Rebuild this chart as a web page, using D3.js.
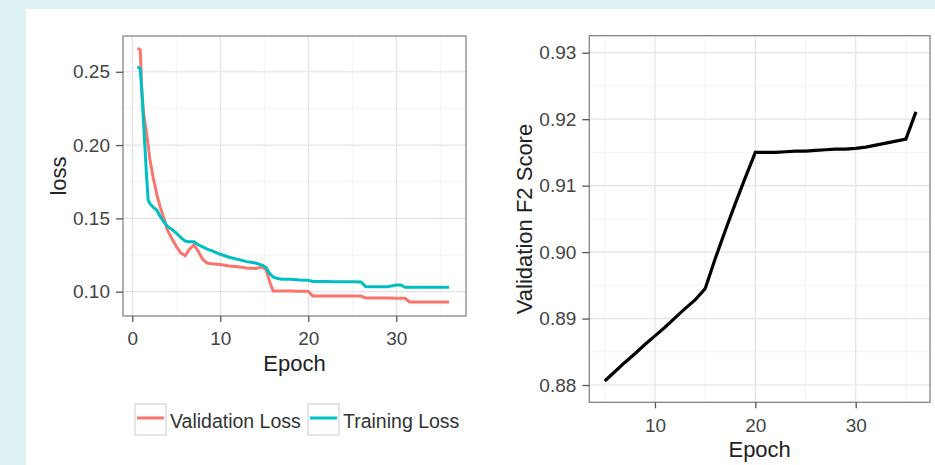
<!DOCTYPE html>
<html>
<head>
<meta charset="utf-8">
<title>Loss and F2</title>
<style>
  body { margin: 0; background: #dff2f3; }
  svg { display: block; font-family: "Liberation Sans", Arial, sans-serif; }
</style>
</head>
<body>
<svg id="chart" width="935" height="465"></svg>
<script src="https://cdn.jsdelivr.net/npm/d3@7"></script>
<script>
// loss per (fractional) epoch
const lossEpoch = [0.6, 0.9, 1.1, 1.3, 1.6, 1.8, 2, 2.4, 2.8, 3.2,
  3.6, 4, 4.5, 5, 5.5, 6, 6.5, 7, 7.5, 8,
  8.5, 9, 10, 11, 12, 13, 14, 14.8, 15.2, 15.6,
  16, 16.5, 17, 18, 19, 20, 20.5, 21, 22, 23,
  24, 25, 26, 26.5, 27, 28, 29, 30, 30.5, 31,
  31.5, 32, 33, 34, 35, 36]
const validationLoss = [0.266, 0.265, 0.235, 0.221, 0.209, 0.200, 0.190, 0.177, 0.166, 0.157,
  0.150, 0.142, 0.136, 0.131, 0.1265, 0.1245, 0.129, 0.132, 0.1275, 0.122,
  0.1195, 0.119, 0.1185, 0.1175, 0.117, 0.1162, 0.1158, 0.1168, 0.115, 0.107,
  0.1005, 0.1005, 0.1005, 0.1005, 0.1003, 0.1002, 0.097, 0.097, 0.097, 0.097,
  0.097, 0.097, 0.097, 0.0957, 0.0957, 0.0957, 0.0956, 0.0955, 0.0955, 0.0955,
  0.093, 0.093, 0.093, 0.093, 0.093, 0.093]
const trainingLoss = [0.2535, 0.252, 0.235, 0.213, 0.181, 0.1626, 0.160, 0.1575, 0.1555, 0.151,
  0.1475, 0.1445, 0.1425, 0.140, 0.137, 0.1345, 0.134, 0.134, 0.132, 0.1305,
  0.129, 0.128, 0.1255, 0.1235, 0.122, 0.1205, 0.1195, 0.118, 0.1165, 0.1125,
  0.110, 0.109, 0.1085, 0.1085, 0.108, 0.1078, 0.107, 0.107, 0.107, 0.1068,
  0.1068, 0.1068, 0.1066, 0.1035, 0.1034, 0.1034, 0.1034, 0.1046, 0.1046, 0.103,
  0.103, 0.103, 0.103, 0.103, 0.103, 0.103]

// validation F2 per epoch
const f2Epoch = d3.range(5, 37)
const f2Score = [0.8806, 0.8820, 0.8834, 0.8847, 0.8861, 0.8874, 0.8887, 0.8901, 0.8915, 0.8928,
  0.8945, 0.8990, 0.9032, 0.9073, 0.9112, 0.9150, 0.9150, 0.9150, 0.9151, 0.9152,
  0.9152, 0.9153, 0.9154, 0.9155, 0.9155, 0.9156, 0.9158, 0.9161, 0.9164, 0.9167,
  0.9170, 0.9211]

const lossTicksY = [0.10, 0.15, 0.20, 0.25]
const lossMinorY = [0.125, 0.175, 0.225]
const lossTicksX = [0, 10, 20, 30]
const f2TicksY = [0.88, 0.89, 0.90, 0.91, 0.92, 0.93]
const f2MinorY = [0.885, 0.895, 0.905, 0.915, 0.925]
const f2TicksX = [10, 20, 30]
const minorX = [5, 15, 25, 35]

const series = [
  { name: "Validation Loss", values: validationLoss, color: "#F8766D" },
  { name: "Training Loss", values: trainingLoss, color: "#00BFC4" }
]

const svg = d3.select("#chart")

// white plotting area on the pale page
svg.append("rect").attr("x", 26).attr("y", 9).attr("width", 935 - 26).attr("height", 465 - 9).attr("fill", "white")

function panel(opts) {
  const g = svg.append("g")
  const x = d3.scaleLinear().domain(opts.xDomain).range(opts.xRange)
  const y = d3.scaleLinear().domain(opts.yDomain).range(opts.yRange)
  const [x0, x1] = opts.xRange, [y1, y0] = opts.yRange

  // minor grid
  g.selectAll("line.mx").data(opts.minorX).enter().append("line")
    .attr("x1", d => x(d)).attr("x2", d => x(d)).attr("y1", y0).attr("y2", y1)
    .attr("stroke", "#f3f3f3").attr("stroke-width", 1)
  g.selectAll("line.my").data(opts.minorY).enter().append("line")
    .attr("y1", d => y(d)).attr("y2", d => y(d)).attr("x1", x0).attr("x2", x1)
    .attr("stroke", "#f3f3f3").attr("stroke-width", 1)
  // major grid
  g.selectAll("line.gx").data(opts.ticksX).enter().append("line")
    .attr("x1", d => x(d)).attr("x2", d => x(d)).attr("y1", y0).attr("y2", y1)
    .attr("stroke", "#e3e3e3").attr("stroke-width", 1.2)
  g.selectAll("line.gy").data(opts.ticksY).enter().append("line")
    .attr("y1", d => y(d)).attr("y2", d => y(d)).attr("x1", x0).attr("x2", x1)
    .attr("stroke", "#e3e3e3").attr("stroke-width", 1.2)

  opts.draw(g, x, y)

  // border
  g.append("rect").attr("x", x0).attr("y", y0).attr("width", x1 - x0).attr("height", y1 - y0)
    .attr("fill", "none").attr("stroke", "#858585").attr("stroke-width", 1.3)

  // axes
  const ax = g.append("g").attr("transform", `translate(0,${y1})`)
    .call(d3.axisBottom(x).tickValues(opts.ticksX).tickSize(6).tickPadding(10).tickFormat(d3.format("d")))
  const ay = g.append("g").attr("transform", `translate(${x0},0)`)
    .call(d3.axisLeft(y).tickValues(opts.ticksY).tickSize(7).tickPadding(6).tickFormat(d3.format(".2f")))
  for (const a of [ax, ay]) {
    a.select(".domain").remove()
    a.selectAll(".tick line").attr("stroke", "#555").attr("stroke-width", 1.3)
    a.selectAll(".tick text").attr("fill", "#444").style("font-size", "19px")
      .style("font-family", "'Liberation Sans', Arial, sans-serif")
  }

  g.append("text").attr("x", (x0 + x1) / 2).attr("y", opts.xTitleY)
    .attr("text-anchor", "middle").style("font-size", "22px").attr("fill", "#222").text("Epoch")
  g.append("text").attr("transform", `translate(${opts.yTitleX},${(y0 + y1) / 2}) rotate(-90)`)
    .attr("text-anchor", "middle").style("font-size", "22px").attr("fill", "#222").text(opts.yTitle)
}

// left: loss
panel({
  xDomain: [-1.057, 37.92], xRange: [123, 466],
  yDomain: [0.0834, 0.2744], yRange: [316, 36],
  ticksX: lossTicksX, ticksY: lossTicksY, minorX: minorX, minorY: lossMinorY,
  xTitleY: 371, yTitleX: 66, yTitle: "loss",
  draw: (g, x, y) => {
    const line = d3.line().x((d, i) => x(lossEpoch[i])).y(d => y(d))
    series.forEach(s => {
      g.append("path").attr("d", line(s.values)).attr("fill", "none")
        .attr("stroke", s.color).attr("stroke-width", 3)
    })
  }
})

// right: F2
panel({
  xDomain: [3.46, 37.4], xRange: [589.3, 930],
  yDomain: [0.8774, 0.93256], yRange: [402.3, 35.7],
  ticksX: f2TicksX, ticksY: f2TicksY, minorX: minorX, minorY: f2MinorY,
  xTitleY: 457, yTitleX: 532, yTitle: "Validation F2 Score",
  draw: (g, x, y) => {
    const line = d3.line().x((d, i) => x(f2Epoch[i])).y(d => y(d))
    g.append("path").attr("d", line(f2Score)).attr("fill", "none")
      .attr("stroke", "black").attr("stroke-width", 3.2)
  }
})

// legend
const legend = svg.append("g")
const keyX = [135, 308]
series.forEach((s, i) => {
  const k = legend.append("g").attr("transform", `translate(${keyX[i]},404)`)
  k.append("rect").attr("width", 31).attr("height", 31).attr("fill", "white")
    .attr("stroke", "#d4d4d4").attr("stroke-width", 1.2)
  k.append("line").attr("x1", 2).attr("x2", 29).attr("y1", 14).attr("y2", 14)
    .attr("stroke", s.color).attr("stroke-width", 3)
  k.append("text").attr("x", 35).attr("y", 24).style("font-size", "19.5px")
    .attr("fill", "#333").text(s.name)
})
</script>
</body>
</html>
